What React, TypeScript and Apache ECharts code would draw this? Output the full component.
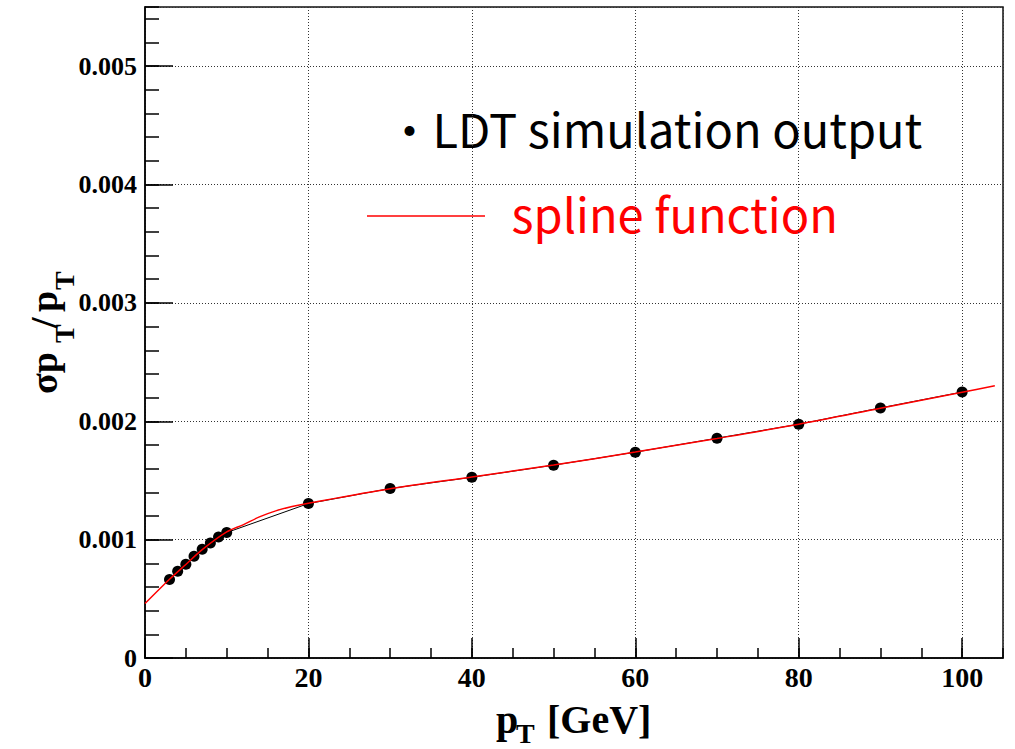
import React, { useEffect, useRef } from "react";
import * as echarts from "echarts";

// LDT simulation output (pT in GeV, sigma pT / pT)
const ptValues = [3, 4, 5, 6, 7, 8, 9, 10, 20, 30, 40, 50, 60, 70, 80, 90, 100];
const resolution = [
  0.000663, 0.000733, 0.000792, 0.00086, 0.000919, 0.000972, 0.001023, 0.00106,
  0.001305, 0.001432, 0.001527, 0.001629, 0.001739, 0.001857, 0.001975, 0.002113, 0.002247,
];

// spline function
const splinePt = [0, 3, 5, 7, 10, 12, 14, 16, 18, 20, 30, 40, 50, 60, 70, 80, 90, 100, 104];
const splineRes = [
  0.00046, 0.000665, 0.00079, 0.000915, 0.001065, 0.001125, 0.001192, 0.001243, 0.00128,
  0.001308, 0.00143, 0.00153, 0.00163, 0.00174, 0.001855, 0.001975, 0.00211, 0.002245, 0.0023,
];

const xTicks = [0, 20, 40, 60, 80, 100];
const yTicks = [0, 0.001, 0.002, 0.003, 0.004, 0.005];
const yTickLabels = ["0", "0.001", "0.002", "0.003", "0.004", "0.005"];

const SERIF = "Liberation Serif";
const JP = "Noto Sans CJK JP";

export default function App() {
  const ref = useRef<HTMLDivElement>(null);
  useEffect(() => {
    if (!ref.current) return;
    const chart = echarts.init(ref.current, null, { renderer: "svg" });
    const labelStyle = {
      fontFamily: SERIF,
      fontWeight: "bold" as const,
      color: "#000",
    };
    const tickLine = { color: "#000", width: 1.5 };
    const grid = { type: [1, 2], color: "#333", width: 1 };
    const cBase = (fs: number) => 0.34 * fs;
    const LFS = 47;
    chart.setOption({
      animation: false,
      backgroundColor: "#fff",
      grid: {
        left: 145,
        right: 12,
        top: 7,
        bottom: 91,
        show: true,
        borderColor: "#111",
        borderWidth: 1.5,
        backgroundColor: "transparent",
      },
      xAxis: [
        {
          type: "value",
          min: 0,
          max: 105,
          interval: 20,
          axisLine: { show: true, onZero: false, lineStyle: { color: "#000", width: 1.5 } },
          axisTick: { show: true, inside: true, length: 20, lineStyle: tickLine },
          axisLabel: {
            ...labelStyle,
            fontSize: 28,
            margin: 5,
            showMaxLabel: false,
            formatter: (v: number) => (xTicks.includes(v) ? String(v) : ""),
          },
          splitLine: { show: true, lineStyle: grid },
        },
        {
          type: "value",
          min: 0,
          max: 105,
          interval: 5,
          position: "bottom",
          axisLine: { show: false, onZero: false },
          axisTick: { show: true, inside: true, length: 10, lineStyle: tickLine },
          axisLabel: { show: false },
          splitLine: { show: false },
        },
      ],
      yAxis: [
        {
          type: "value",
          min: 0,
          max: 0.0055,
          interval: 0.001,
          axisLine: { show: true, onZero: false, lineStyle: { color: "#000", width: 1.5 } },
          axisTick: { show: true, inside: true, length: 28, lineStyle: tickLine },
          axisLabel: {
            ...labelStyle,
            fontSize: 26,
            margin: 8,
            showMaxLabel: false,
            formatter: (v: number) => {
              const i = yTicks.findIndex((t) => Math.abs(t - v) < 1e-9);
              return i >= 0 ? yTickLabels[i] : "";
            },
          },
          splitLine: { show: true, lineStyle: grid },
        },
        {
          type: "value",
          min: 0,
          max: 0.0055,
          interval: 0.0002,
          position: "left",
          axisLine: { show: false, onZero: false },
          axisTick: { show: true, inside: true, length: 14, lineStyle: tickLine },
          axisLabel: { show: false },
          splitLine: { show: false },
        },
      ],
      series: [
        {
          name: "LDT simulation output",
          type: "line",
          xAxisIndex: 0,
          yAxisIndex: 0,
          data: ptValues.map((x, i) => [x, resolution[i]]),
          symbol: "circle",
          symbolSize: 11,
          itemStyle: { color: "#000" },
          lineStyle: { color: "#000", width: 1 },
          z: 2,
        },
        {
          name: "spline function",
          type: "line",
          xAxisIndex: 0,
          yAxisIndex: 0,
          data: splinePt.map((x, i) => [x, splineRes[i]]),
          smooth: 0.3,
          symbol: "none",
          lineStyle: { color: "#ff0000", width: 1.5 },
          z: 3,
        },
      ],
      graphic: [
        // legend
        {
          type: "text",
          x: 409.6,
          y: 128,
          style: { text: "・", font: `${LFS}px "${JP}"`, fill: "#000", align: "center", verticalAlign: "middle" },
        },
        {
          type: "text",
          x: 432.5,
          y: 145 - 0.38 * LFS,
          style: {
            text: "LDT simulation output",
            font: `${LFS}px "${JP}"`,
            fill: "#000",
            align: "left",
            verticalAlign: "middle",
          },
        },
        {
          type: "line",
          shape: { x1: 367, y1: 216, x2: 485, y2: 216 },
          style: { stroke: "#ff0000", lineWidth: 1.5 },
        },
        {
          type: "text",
          x: 511.5,
          y: 230 - 0.38 * LFS,
          style: {
            text: "spline function",
            font: `${LFS}px "${JP}"`,
            fill: "#ff0000",
            align: "left",
            verticalAlign: "middle",
          },
        },
        // x axis title: p_T [GeV]
        {
          type: "text",
          x: 496,
          y: 733 - cBase(40),
          style: { text: "p", font: `bold 40px "${SERIF}"`, fill: "#000", align: "left", verticalAlign: "middle" },
        },
        {
          type: "text",
          x: 516,
          y: 743 - cBase(28),
          style: { text: "T", font: `bold 28px "${SERIF}"`, fill: "#000", align: "left", verticalAlign: "middle" },
        },
        {
          type: "text",
          x: 547,
          y: 733 - cBase(40),
          style: { text: "[GeV]", font: `bold 40px "${SERIF}"`, fill: "#000", align: "left", verticalAlign: "middle" },
        },
        // y axis title: σp_T/p_T
        {
          type: "group",
          x: 57,
          y: 394,
          rotation: Math.PI / 2,
          children: [
            {
              type: "text",
              x: 0,
              y: -cBase(38),
              style: { text: "σp", font: `bold 38px "${SERIF}"`, fill: "#000", align: "left", verticalAlign: "middle" },
            },
            {
              type: "text",
              x: 51,
              y: 17 - cBase(28),
              style: { text: "T", font: `bold 28px "${SERIF}"`, fill: "#000", align: "left", verticalAlign: "middle" },
            },
            {
              type: "text",
              x: 66,
              y: -cBase(38),
              style: { text: "/", font: `bold 38px "${SERIF}"`, fill: "#000", align: "left", verticalAlign: "middle" },
            },
            {
              type: "text",
              x: 82,
              y: -cBase(38),
              style: { text: "p", font: `bold 38px "${SERIF}"`, fill: "#000", align: "left", verticalAlign: "middle" },
            },
            {
              type: "text",
              x: 104,
              y: 17 - cBase(28),
              style: { text: "T", font: `bold 28px "${SERIF}"`, fill: "#000", align: "left", verticalAlign: "middle" },
            },
          ],
        },
      ],
    });
    return () => chart.dispose();
  }, []);
  return (
    <div
      ref={ref}
      style={{ position: "absolute", left: 0, top: 0, width: 1015, height: 749, background: "#fff" }}
    />
  );
}
